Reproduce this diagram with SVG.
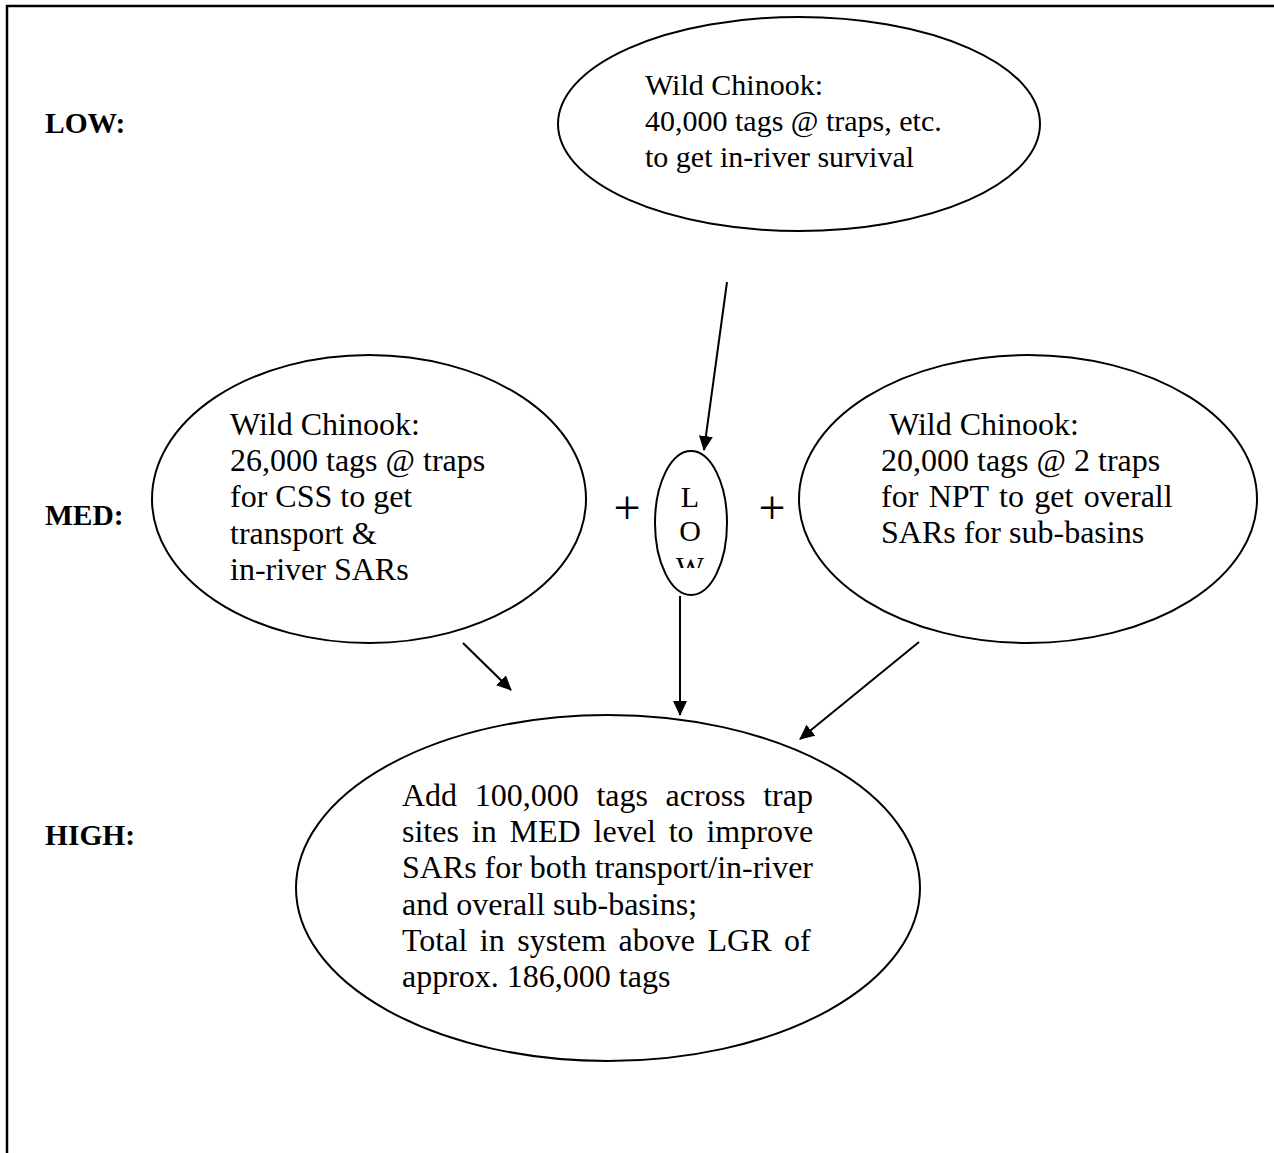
<svg xmlns="http://www.w3.org/2000/svg" width="1274" height="1153" viewBox="0 0 1274 1153">
<style>
text { font-family: "Liberation Serif", "Times New Roman", serif; font-size: 32px; fill: #000; }
.lbl { font-weight: bold; font-size: 29.5px; }
.t30 { font-size: 30px; }
.plus { font-size: 48px; text-anchor: middle; }
.node { fill: #fff; stroke: #000; stroke-width: 2; }
.conn { stroke: #000; stroke-width: 2; fill: none; marker-end: url(#ah); }
</style>
<defs>
<marker id="ah" markerWidth="15" markerHeight="14" refX="14" refY="7" orient="auto" markerUnits="userSpaceOnUse">
<path d="M0,0 L15,7 L0,14 Z" fill="#000"/>
</marker>
<clipPath id="lowclip"><rect x="655" y="470" width="73" height="98"/></clipPath>
</defs>
<rect x="0" y="0" width="1274" height="1153" fill="#fff"/>
<g id="frame">
<line x1="6" y1="6" x2="1274" y2="6" stroke="#000" stroke-width="2.5"/>
<line x1="7" y1="5" x2="7" y2="1153" stroke="#000" stroke-width="2.5"/>
</g>
<g id="levels">
<text class="lbl" x="45" y="133">LOW:</text>
<text class="lbl" x="45" y="525">MED:</text>
<text class="lbl" x="45" y="845">HIGH:</text>
</g>
<g id="node-low-top">
<ellipse class="node" cx="799" cy="124" rx="241" ry="107"/>
<text class="t30" x="645" y="94.5">Wild Chinook:</text>
<text class="t30" x="645" y="131">40,000 tags @ traps, etc.</text>
<text class="t30" x="645" y="167">to get in-river survival</text>
</g>
<g id="node-med-left">
<ellipse class="node" cx="369" cy="499" rx="217" ry="144"/>
<text x="230" y="435">Wild Chinook:</text>
<text x="230" y="471">26,000 tags @ traps</text>
<text x="230" y="507.3">for CSS to get</text>
<text x="230" y="543.6">transport &amp;</text>
<text x="230" y="580">in-river SARs</text>
</g>
<g id="node-low-small">
<ellipse class="node" cx="691" cy="523" rx="36" ry="72"/>
<g clip-path="url(#lowclip)" text-anchor="middle">
<text class="t30" x="690" y="507">L</text>
<text class="t30" x="690" y="541">O</text>
<text class="t30" x="690" y="577">W</text>
</g>
</g>
<g id="plus-signs">
<text class="plus" x="627" y="524">+</text>
<text class="plus" x="772" y="524">+</text>
</g>
<g id="node-med-right">
<ellipse class="node" cx="1028" cy="499" rx="229" ry="144"/>
<text x="889" y="434.5">Wild Chinook:</text>
<text x="881" y="470.5">20,000 tags @ 2 traps</text>
<text x="881" y="506.7" word-spacing="2.4">for NPT to get overall</text>
<text x="881" y="543">SARs for sub-basins</text>
</g>
<g id="node-high">
<ellipse class="node" cx="608" cy="888" rx="312" ry="173"/>
<text x="402" y="806" word-spacing="9.65">Add 100,000 tags across trap</text>
<text x="402" y="842.2" word-spacing="4.9">sites in MED level to improve</text>
<text x="402" y="878.4" textLength="411" lengthAdjust="spacing">SARs for both transport/in-river</text>
<text x="402" y="914.6">and overall sub-basins;</text>
<text x="402" y="950.8" word-spacing="4.5">Total in system above LGR of</text>
<text x="402" y="987">approx. 186,000 tags</text>
</g>
<g id="connectors">
<line class="conn" x1="727" y1="282" x2="704" y2="450"/>
<line class="conn" x1="463" y1="643" x2="511" y2="690"/>
<line class="conn" x1="680" y1="596" x2="680" y2="715"/>
<line class="conn" x1="919" y1="642" x2="800" y2="739"/>
</g>
</svg>
